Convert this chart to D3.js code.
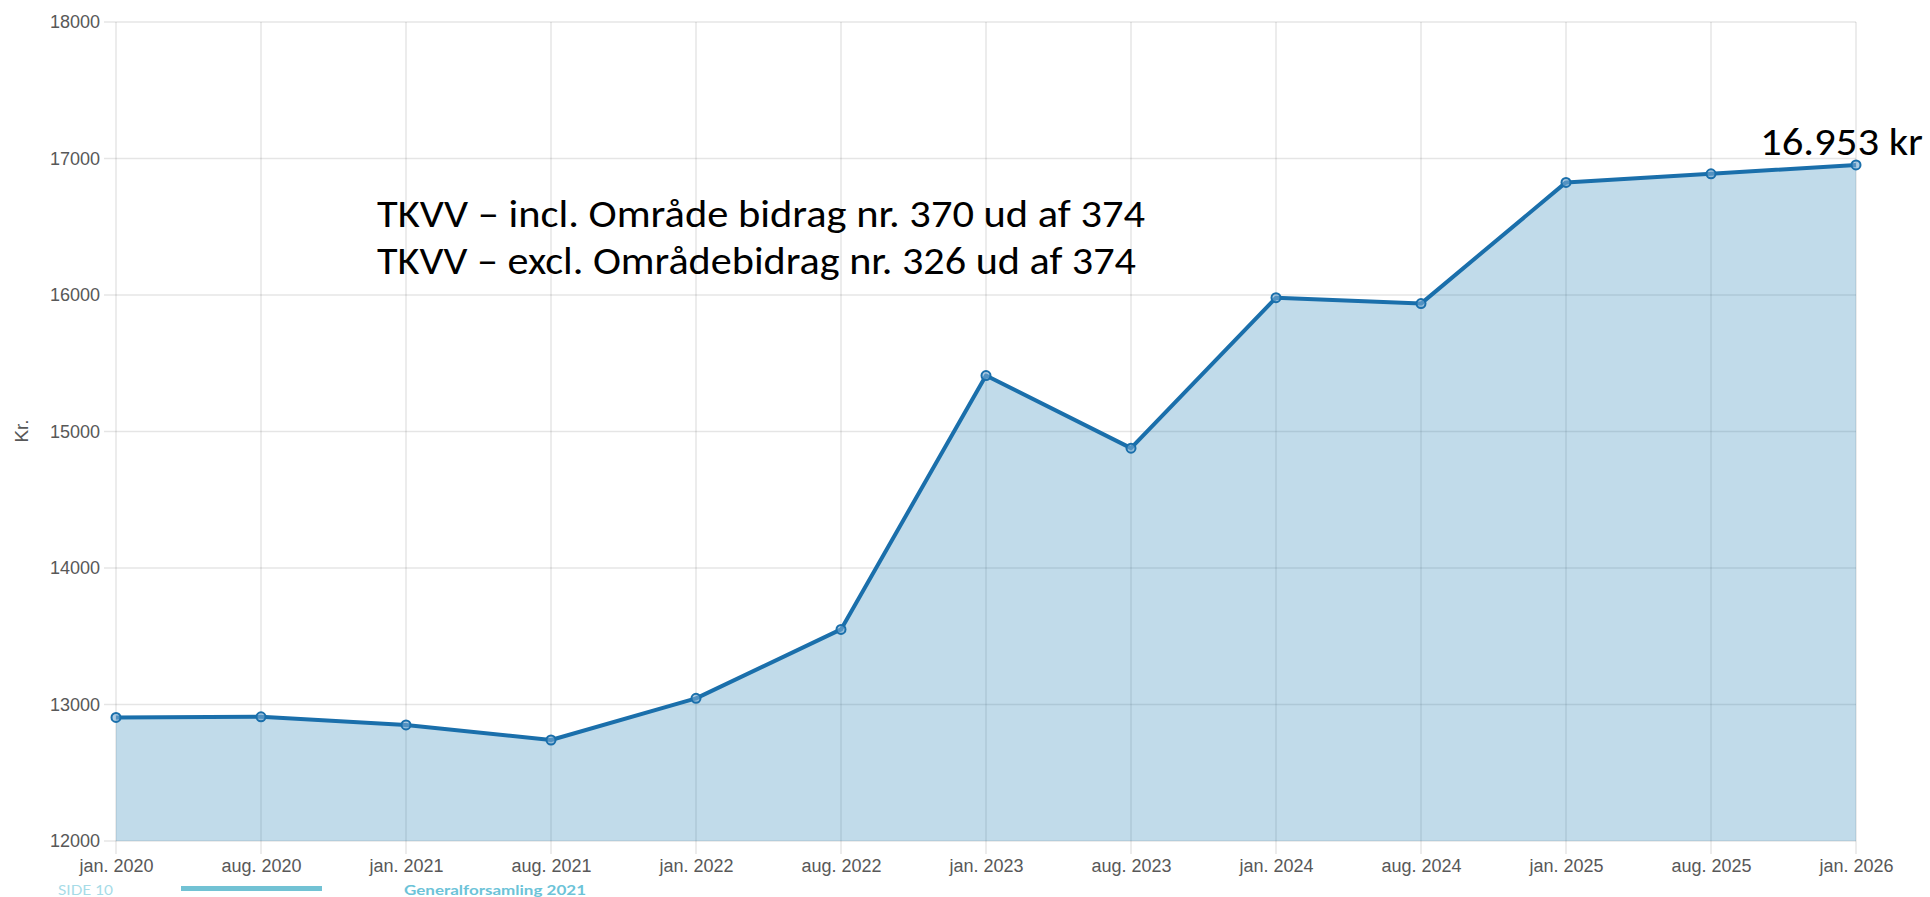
<!DOCTYPE html>
<html>
<head>
<meta charset="utf-8">
<script src="https://cdn.jsdelivr.net/npm/d3@7"></script>
<style>
  body { margin: 0; background: #fff; }
  svg { display: block; }
</style>
</head>
<body>
<div id="chart"></div>
<script>
const width = 1930
const height = 897
const margin = { top: 22, bottom: 56, left: 116, right: 74 }

// data
const categories = ["jan. 2020", "aug. 2020", "jan. 2021", "aug. 2021", "jan. 2022", "aug. 2022", "jan. 2023",
    "aug. 2023", "jan. 2024", "aug. 2024", "jan. 2025", "aug. 2025", "jan. 2026"]
const values = [12905, 12910, 12850, 12740, 13045, 13550, 15410, 14878, 15980, 15937, 16825, 16888, 16953]
const yTicks = [12000, 13000, 14000, 15000, 16000, 17000, 18000]
const notes = ["TKVV – incl. Område bidrag nr. 370 ud af 374", "TKVV – excl. Områdebidrag nr. 326 ud af 374"]
const lastLabel = "16.953 kr"

const data = categories.map((c, i) => ({ cat: c, value: values[i] }))

const innerW = width - margin.left - margin.right
const innerH = height - margin.top - margin.bottom

const svg = d3.select("div#chart").append("svg").attr("width", width).attr("height", height)
const gridGroup = svg.append("g").attr("id", "gridGroup").attr("transform", `translate(${margin.left}, ${margin.top})`)
const elementGroup = svg.append("g").attr("id", "elementGroup").attr("transform", `translate(${margin.left}, ${margin.top})`)
const axisGroup = svg.append("g").attr("id", "axisGroup")

const x = d3.scalePoint().domain(categories).range([0, innerW])
const y = d3.scaleLinear().domain([12000, 18000]).range([innerH, 0])

const gridColor = "rgba(0,0,0,0.1)"

// gridlines (with chart.js-like tick stubs sticking out)
gridGroup.selectAll("line.h").data(yTicks).enter().append("line")
    .attr("class", "h")
    .attr("x1", -12).attr("x2", innerW)
    .attr("y1", d => y(d)).attr("y2", d => y(d))
    .attr("stroke", gridColor).attr("stroke-width", 1.5)

gridGroup.selectAll("line.v").data(categories).enter().append("line")
    .attr("class", "v")
    .attr("x1", d => x(d)).attr("x2", d => x(d))
    .attr("y1", 0).attr("y2", innerH + 13)
    .attr("stroke", gridColor).attr("stroke-width", 1.5)

// area + line
const area = d3.area().x(d => x(d.cat)).y0(y(12000)).y1(d => y(d.value))
elementGroup.datum(data).append("path")
    .attr("d", area)
    .attr("fill", "rgba(31,124,180,0.28)")

const line = d3.line().x(d => x(d.cat)).y(d => y(d.value))
elementGroup.datum(data).append("path")
    .attr("d", line)
    .attr("fill", "none")
    .attr("stroke", "#1a6fab")
    .attr("stroke-width", 4)
    .attr("stroke-linejoin", "round")

elementGroup.selectAll("circle").data(data).enter().append("circle")
    .attr("cx", d => x(d.cat))
    .attr("cy", d => y(d.value))
    .attr("r", 4.5)
    .attr("fill", "rgba(120,170,210,0.6)")
    .attr("stroke", "#1a6fab")
    .attr("stroke-width", 2)

// axes (labels only)
const yAxis = d3.axisLeft(y).tickValues(yTicks).tickSize(0).tickPadding(16).tickFormat(d3.format("d"))
const xAxis = d3.axisBottom(x).tickSize(0).tickPadding(18)

const yAxisGroup = axisGroup.append("g").attr("transform", `translate(${margin.left}, ${margin.top})`).call(yAxis)
const xAxisGroup = axisGroup.append("g").attr("transform", `translate(${margin.left}, ${margin.top + innerH})`).call(xAxis)

axisGroup.selectAll(".domain").remove()
axisGroup.selectAll("text")
    .attr("fill", "#585858")
    .style("font-family", "'Liberation Sans', Arial, Helvetica, sans-serif")
    .style("font-size", "18px")

svg.append("text").text("Kr.")
    .attr("transform", "translate(28, 431) rotate(-90)")
    .attr("text-anchor", "middle")
    .attr("fill", "#585858")
    .style("font-family", "'Liberation Sans', Arial, sans-serif")
    .style("font-size", "19px")

// annotations
const noteFont = "Carlito, Calibri, Lato, sans-serif"
svg.selectAll("text.note").data(notes).enter().append("text")
    .attr("class", "note")
    .text(d => d)
    .attr("x", 377)
    .attr("y", (d, i) => 227 + i * 47)
    .attr("fill", "#000")
    .attr("textLength", (d, i) => i == 0 ? 768 : 759)
    .attr("lengthAdjust", "spacingAndGlyphs")
    .style("font-family", noteFont)
    .style("font-size", "38px")

svg.append("text").text(lastLabel)
    .attr("x", 1760).attr("y", 155)
    .attr("fill", "#000")
    .attr("textLength", 163)
    .attr("lengthAdjust", "spacingAndGlyphs")
    .style("font-family", noteFont)
    .style("font-size", "38px")

// slide footer
svg.append("text").text("SIDE 10")
    .attr("x", 58).attr("y", 895)
    .attr("fill", "#a6dbe7")
    .attr("textLength", 55)
    .attr("lengthAdjust", "spacingAndGlyphs")
    .style("font-family", "Lato, sans-serif")
    .style("font-size", "13px")

svg.append("rect").attr("x", 181).attr("y", 886).attr("width", 141).attr("height", 5)
    .attr("fill", "#72c2d4")

svg.append("text").text("Generalforsamling 2021")
    .attr("x", 404).attr("y", 895)
    .attr("fill", "#6cc3d8")
    .attr("textLength", 182)
    .attr("lengthAdjust", "spacingAndGlyphs")
    .style("font-family", "Lato, sans-serif")
    .style("font-weight", 700)
    .style("font-size", "13px")
</script>
</body>
</html>
